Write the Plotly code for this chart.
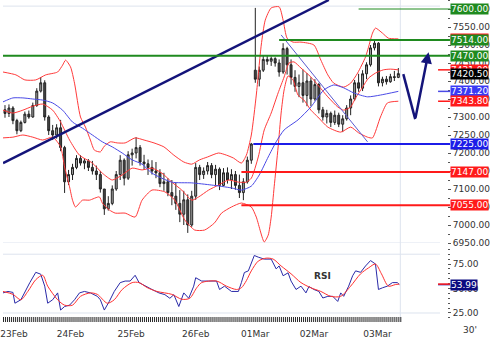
import plotly.graph_objects as go
import numpy as np

# ---------------- data (30-minute bars) ----------------
bar_open = [7320, 7310, 7325, 7290, 7262, 7285, 7308, 7300, 7332, 7372,
            7395, 7300, 7262, 7250, 7270, 7215, 7120, 7140, 7160, 7185,
            7172, 7178, 7160, 7150, 7140, 7100, 7045, 7060, 7100, 7140,
            7180, 7130, 7195, 7200, 7215, 7175, 7170, 7160, 7150, 7145,
            7115, 7120, 7090, 7080, 7060, 7030, 7070, 7000, 7080, 7160,
            7140, 7150, 7165, 7140, 7155, 7110, 7145, 7125, 7140, 7110,
            7090, 7120, 7180, 7430, 7405, 7430, 7460, 7455, 7462, 7450,
            7425, 7490, 7445, 7410, 7385, 7395, 7360, 7400, 7350, 7390,
            7320, 7300, 7310, 7285, 7305, 7280, 7295, 7325, 7350, 7395,
            7380, 7420, 7445, 7492, 7505, 7395, 7405, 7398, 7412, 7410]
bar_high = [7333, 7335, 7330, 7295, 7290, 7315, 7318, 7340, 7380, 7411,
            7402, 7305, 7278, 7280, 7292, 7220, 7153, 7170, 7194, 7194,
            7185, 7183, 7178, 7165, 7150, 7100, 7080, 7110, 7150, 7194,
            7185, 7205, 7212, 7244, 7222, 7195, 7182, 7180, 7175, 7155,
            7145, 7130, 7125, 7118, 7097, 7095, 7085, 7095, 7172, 7167,
            7160, 7175, 7172, 7167, 7160, 7158, 7160, 7155, 7150, 7140,
            7130, 7190, 7228, 7603, 7440, 7470, 7472, 7468, 7466, 7460,
            7505, 7495, 7460, 7430, 7418, 7432, 7422, 7410, 7405, 7395,
            7328, 7320, 7315, 7318, 7312, 7305, 7333, 7360, 7403, 7420,
            7430, 7452, 7500, 7514, 7508, 7412, 7414, 7420, 7428, 7436]
bar_low = [7298, 7300, 7280, 7252, 7258, 7282, 7295, 7298, 7328, 7368,
           7290, 7250, 7236, 7240, 7205, 7089, 7111, 7125, 7155, 7165,
           7155, 7150, 7140, 7125, 7090, 7028, 7040, 7055, 7095, 7125,
           7110, 7125, 7165, 7185, 7165, 7153, 7139, 7140, 7130, 7105,
           7095, 7080, 7055, 7042, 7008, 7000, 6978, 6995, 7070, 7125,
           7128, 7140, 7130, 7110, 7097, 7108, 7115, 7100, 7098, 7075,
           7069, 7115, 7170, 7395, 7385, 7425, 7445, 7442, 7440, 7412,
           7420, 7418, 7390, 7370, 7355, 7340, 7330, 7330, 7345, 7310,
           7290, 7282, 7272, 7278, 7272, 7258, 7290, 7305, 7345, 7370,
           7372, 7405, 7440, 7485, 7385, 7385, 7390, 7395, 7400, 7408]
bar_close = [7310, 7325, 7290, 7262, 7285, 7308, 7300, 7332, 7372, 7395,
             7300, 7262, 7250, 7270, 7215, 7120, 7140, 7160, 7185, 7172,
             7178, 7160, 7150, 7140, 7100, 7045, 7060, 7100, 7140, 7180,
             7130, 7195, 7200, 7215, 7175, 7170, 7160, 7150, 7145, 7115,
             7120, 7090, 7080, 7060, 7030, 7070, 7000, 7080, 7160, 7140,
             7150, 7165, 7140, 7155, 7110, 7145, 7125, 7140, 7110, 7090,
             7120, 7180, 7225, 7405, 7430, 7460, 7455, 7462, 7450, 7425,
             7490, 7445, 7410, 7385, 7395, 7360, 7400, 7350, 7390, 7320,
             7300, 7310, 7285, 7305, 7280, 7295, 7325, 7350, 7395, 7380,
             7420, 7445, 7492, 7505, 7395, 7405, 7398, 7412, 7410, 7420.5]

# Bollinger bands (time in bar units, price)
bb_up_t = [-0.5, 2.75, 5, 7.75, 10.25, 13.25, 14.5, 15.25, 16.5, 17.5, 19, 20.25, 21.5, 22.5, 24, 25,
           26.5, 28.25, 30.25, 32.75, 35, 37.5, 40, 42.5, 45, 47, 49, 51, 53.75, 55.75, 57.5, 59.5,
           60.75, 62, 63.25, 64.5, 65.5, 67, 69, 70, 71, 72.5, 74.5, 77.75, 79.5, 81.25, 82.75,
           85.25, 87, 88.75, 90.75, 91.5, 92.5, 93.25, 95, 96.5, 99]
bb_up = [7425, 7417, 7403, 7403, 7417, 7425, 7444, 7458, 7439, 7394, 7300, 7272, 7236, 7208, 7203, 7219,
         7231, 7228, 7228, 7242, 7236, 7228, 7217, 7194, 7175, 7169, 7181, 7189, 7200, 7194, 7186, 7172,
         7194, 7250, 7361, 7500, 7569, 7603, 7606, 7569, 7519, 7508, 7508, 7500, 7458, 7417, 7394,
         7383, 7394, 7422, 7467, 7494, 7533, 7547, 7533, 7519, 7517]
bb_mid_t = [-0.5, 2, 4.5, 7, 9.5, 12, 14, 16.25, 18.75, 22, 24.5, 27, 29.5, 32, 34.5, 37, 39.5, 42,
            44.5, 47, 48.75, 51.25, 53.75, 56.25, 58.75, 60.75, 62, 63.75, 65.25, 67, 68.75, 70.25,
            71.5, 72.75, 74.5, 77, 78.75, 81.25, 83.75, 85.25, 87, 88.25, 90, 91.5, 93.25, 95.25, 97, 99]
bb_mid = [7319, 7311, 7319, 7330, 7336, 7319, 7286, 7236, 7194, 7172, 7144, 7125, 7139, 7158, 7153, 7158,
          7144, 7119, 7097, 7069, 7078, 7097, 7111, 7125, 7119, 7119, 7130, 7189, 7264, 7311, 7367, 7411,
          7450, 7453, 7436, 7411, 7389, 7356, 7328, 7319, 7328, 7353, 7383, 7408, 7422, 7431, 7433, 7431]
bb_low_t = [-0.5, 2, 4.5, 7, 9.5, 12, 14, 15, 16.25, 17, 17.75, 19.5, 21.25, 23.75, 24.5, 26.25, 27.75,
            30.25, 32.75, 34.5, 37, 40.25, 42.75, 45.25, 47.75, 50.25, 52.75, 54.5, 57, 59.5, 62, 63.25,
            65.25, 66.25, 67, 67.75, 68.75, 69.5, 70.25, 71.25, 72.5, 73.75, 75.25, 77, 78.75, 81.25,
            84.5, 87, 89, 91.25, 92.5, 94.5, 96.25, 99]
bb_low = [7242, 7244, 7250, 7244, 7236, 7244, 7217, 7161, 7106, 7069, 7050, 7069, 7069, 7078, 7061, 7042,
          7033, 7033, 7022, 7069, 7097, 7092, 7069, 7014, 6986, 6986, 7006, 7033, 7050, 7061, 7050, 7022,
          6953, 6972, 7022, 7106, 7217, 7311, 7375, 7414, 7403, 7361, 7347, 7319, 7300, 7272,
          7258, 7272, 7256, 7244, 7242, 7300, 7339, 7343.8]

# longer moving average (blue)
ma_t = [-0.5, 2, 4.5, 7, 9.5, 12, 14.5, 17, 19.5, 22, 24.5, 27, 29.5, 32, 34.5, 37, 42, 47, 52, 57,
        59.5, 62, 64, 66.25, 68.25, 70.25, 73.75, 77, 80.25, 82.75, 85.25, 87.75, 91.25, 94.5, 99]
ma = [7342, 7353, 7353, 7350, 7347, 7339, 7319, 7286, 7269, 7250, 7231, 7217, 7200, 7181, 7169, 7144,
      7119, 7117, 7111, 7103, 7097, 7108, 7139, 7189, 7231, 7264, 7292, 7328, 7375, 7389, 7381, 7367,
      7356, 7361, 7371.2]

# RSI and its signal line
rsi_t = [-0.5, 0.75, 2, 2.5, 4, 5, 6.25, 7.75, 9, 10, 10.75, 12, 13.25, 14, 15, 16.25, 17.5, 18.75, 20,
         21.5, 23.25, 24, 25, 26.25, 27.5, 29, 30.25, 31.5, 32.75, 33.75, 35.25, 37, 38.75, 40.25, 41.5,
         42.5, 43.75, 45, 46.25, 47.5, 48, 49.5, 51.25, 53.25, 54, 55.25, 57, 58.75, 59.5, 60.25, 61.25,
         62.75, 63.75, 65.25, 67, 68.25, 69, 70, 71.25, 72, 73.25, 74.5, 75.75, 76.5, 77.75, 79, 80,
         81.25, 82.5, 83.75, 84.5, 85.25, 86.5, 87.5, 88.25, 89.5, 90.75, 92, 93.25, 94, 95, 96.25,
         97.5, 98.75, 99.25]
rsi = [45.5, 47, 46, 35, 38.5, 47, 56, 66.5, 64.6, 52.4, 35, 38.5, 45.5, 28, 31.6, 33, 38.5, 45.5, 47,
       45.5, 42, 38.5, 28, 36.8, 47, 56, 57.6, 57.6, 63.5, 56, 52.4, 49, 45.5, 43.7, 40, 43.7, 31.6,
       45.5, 40, 52.4, 61, 57.6, 57.6, 57.6, 49, 52.4, 47, 47, 56, 66.3, 68, 83.7, 82, 80, 80, 70, 73,
       63, 66, 57.6, 49, 52.4, 45.5, 52, 49, 47, 40.3, 42, 42, 36.8, 45.5, 42, 52.4, 63, 68, 66.5, 73,
       78.5, 75, 49, 50.7, 52.4, 56, 56, 53.99]
sig_t = [-0.5, 2, 4, 5.75, 7.75, 9.5, 10.75, 13.25, 15, 17, 19, 21.5, 23.25, 25.75, 27.5, 29.5, 32,
         33.75, 35.75, 38.25, 42, 44.5, 46.5, 48.25, 49.5, 53.25, 55.75, 58.25, 59.5, 60.75, 62, 63.75,
         65.75, 67.5, 69.5, 72, 74.5, 77, 79.5, 82, 84.5, 87, 89.5, 91.5, 93.25, 94.75, 96.5, 98.25, 99.25]
sig = [47, 44, 38.5, 47, 59, 63.5, 52.4, 38.5, 33, 33, 42, 45.5, 44, 35, 38.5, 49, 56, 56, 51, 47,
       44, 39, 40, 50.7, 56, 57.6, 52.4, 49, 50.7, 58, 68, 78, 81, 80, 73, 65, 56, 50.7, 47, 42,
       42, 52.4, 65, 71, 75, 65, 52.4, 54, 54.5]

# drawn analysis objects
trend_t = [-0.5, 81.5]
trend_p = [7172, 7625]
fan_t = [69.5, 91.25]
fan_p = [7528, 7231]
proj_t = [100.25, 103.25, 106.6]
proj_p = [7419, 7294, 7480]

levels = [7600, 7514, 7470, 7225, 7147, 7055]
level_start = [89, 69, -0.5, 62.5, 59.5, 59.5]
level_kind = ['g1', 'g', 'g', 'b', 'r', 'r']

day_tick_t = [2.25, 16.5, 31.75, 48, 63, 77.75, 93.75]
day_tick_text = ['23Feb', '24Feb', '25Feb', '26Feb', '01Mar', '02Mar', '03Mar']

# ---------------- layout constants ----------------
W, H = 500, 339
MR, MB = 53, 17
X_LO, X_HI = -0.5, 111.25
PLOT_W = W - MR
PLOT_H = H - MB
FONT = 'DejaVu Sans'
GREEN = '#1f8a1f'
BLUE = '#1c1ce8'
RED = '#ff1a1a'
NAVY = '#14147a'
GRID = '#dde3ee'
RSI_LO, RSI_HI = 15.8, 94.4
RSI_PX = 77  # panel height in px


def xp(t):
    return (t - X_LO) / (X_HI - X_LO)


LABEL_X = 450 / PLOT_W

fig = go.Figure()

fig.add_trace(go.Candlestick(
    x=list(range(len(bar_close))), open=bar_open, high=bar_high, low=bar_low, close=bar_close,
    xaxis='x', yaxis='y', whiskerwidth=0, hoverinfo='skip',
    increasing=dict(line=dict(color='#222222', width=1), fillcolor='#a0a0a0'),
    decreasing=dict(line=dict(color='#222222', width=1), fillcolor='#484848')))

for tt, vv in [(bb_up_t, bb_up), (bb_mid_t, bb_mid), (bb_low_t, bb_low)]:
    fig.add_trace(go.Scatter(x=tt, y=vv, mode='lines', xaxis='x', yaxis='y',
                             line=dict(color='#ff3a3a', width=1, shape='spline', smoothing=0.6),
                             hoverinfo='skip'))
fig.add_trace(go.Scatter(x=ma_t, y=ma, mode='lines', xaxis='x', yaxis='y',
                         line=dict(color='#4a4ae6', width=1, shape='spline', smoothing=0.6),
                         hoverinfo='skip'))
fig.add_trace(go.Scatter(x=trend_t, y=trend_p, mode='lines', xaxis='x', yaxis='y',
                         line=dict(color=NAVY, width=2.5), hoverinfo='skip'))
fig.add_trace(go.Scatter(x=fan_t, y=fan_p, mode='lines', xaxis='x', yaxis='y',
                         line=dict(color='#5a5ad0', width=1), hoverinfo='skip'))
fig.add_trace(go.Scatter(x=proj_t[:2], y=proj_p[:2], mode='lines', xaxis='x', yaxis='y',
                         line=dict(color=NAVY, width=2.5), hoverinfo='skip', cliponaxis=False))

# RSI panel
fig.add_trace(go.Scatter(x=rsi_t, y=rsi, mode='lines', xaxis='x2', yaxis='y2',
                         line=dict(color='#2a2aa8', width=1), hoverinfo='skip'))
fig.add_trace(go.Scatter(x=sig_t, y=sig, mode='lines', xaxis='x2', yaxis='y2',
                         line=dict(color='#ff3030', width=1, shape='spline', smoothing=0.8),
                         hoverinfo='skip'))

shapes = []
# dense time-axis tick marks (one per half bar) along the bottom of the RSI panel
for tp in np.arange(-0.5, 99.6, 0.5):
    shapes.append(dict(type='line', xref='x2', yref='paper', x0=float(tp) + 0.125, x1=float(tp) + 0.125,
                       y0=0, y1=5 / PLOT_H, line=dict(color='#2a2a2a', width=1)))

# frames / faint grid
for yref, yv in [('y', 7608), ('y', 6950), ('y2', 85), ('y2', 25)]:
    shapes.append(dict(type='line', xref='paper', yref=yref, x0=0, x1=440 / PLOT_W, y0=yv, y1=yv,
                       line=dict(color=GRID, width=1), layer='below'))
shapes.append(dict(type='line', xref='paper', yref='paper', x0=xp(99.5), x1=xp(99.5), y0=0, y1=1,
                   line=dict(color=GRID, width=1), layer='below'))

kind_style = {'g1': (GREEN, 1), 'g': (GREEN, 2), 'b': (BLUE, 2), 'r': (RED, 2)}
for lv, st, kd in zip(levels, level_start, level_kind):
    c, w = kind_style[kd]
    shapes.append(dict(type='line', xref='paper', yref='y', x0=xp(st), x1=LABEL_X, y0=lv, y1=lv,
                       line=dict(color=c, width=w)))

# short connector ticks near the value labels
for val, c, yr in [(bb_mid[-1], RED, 'y'), (ma[-1], '#4a4ae6', 'y'), (bb_low[-1], RED, 'y'),
                   (rsi[-1], '#2a2aa8', 'y2'), (sig[-1], RED, 'y2')]:
    shapes.append(dict(type='line', xref='paper', yref=yr, x0=438 / PLOT_W, x1=LABEL_X, y0=val, y1=val,
                       line=dict(color=c, width=1.5)))

ann = []


def label(val, color, yref='y', text=None):
    ann.append(dict(xref='paper', yref=yref, x=LABEL_X, y=val, xanchor='left', yanchor='middle',
                    text=text if text else f'{val:.2f}', showarrow=False, bgcolor=color,
                    borderpad=0, font=dict(family=FONT, size=9, color='white')))


label(levels[0], GREEN)
label(bb_up[-1], RED)
label(levels[1], GREEN)
label(levels[2], GREEN)
label(bb_mid[-1], RED)
label(bar_close[-1], '#000000')
label(ma[-1], '#3a3af5')
label(bb_low[-1], RED)
label(levels[3], BLUE)
label(levels[4], RED)
label(levels[5], RED)
label(rsi[-1], '#0a0a80', yref='y2')

# projection arrow head
ann.append(dict(xref='x', yref='y', x=proj_t[2], y=proj_p[2], axref='x', ayref='y',
                ax=proj_t[1], ay=proj_p[1], showarrow=True, arrowhead=2, arrowsize=0.9,
                arrowwidth=2.5, arrowcolor=NAVY, text=''))
ann.append(dict(xref='x2', yref='y2', x=80, y=62.8, text='<b>RSI</b>', showarrow=False,
                font=dict(family=FONT, size=9, color='#333333')))
ann.append(dict(xref='paper', yref='paper', x=470 / PLOT_W, y=-8 / PLOT_H, text="30'",
                showarrow=False, xanchor='center', yanchor='middle',
                font=dict(family=FONT, size=9, color='#333333')))

tickfont = dict(family=FONT, size=9, color='#333333')
fig.update_layout(
    width=W, height=H, margin=dict(l=0, r=MR, t=0, b=MB),
    paper_bgcolor='white', plot_bgcolor='white', showlegend=False, hovermode=False,
    shapes=shapes, annotations=ann,
    xaxis=dict(domain=[0, 1], range=[X_LO, X_HI], anchor='y', showticklabels=False, ticks='',
               showgrid=False, zeroline=False, showline=False, rangeslider=dict(visible=False)),
    xaxis2=dict(domain=[0, 1], range=[X_LO, X_HI], anchor='y2', tickmode='array',
                tickvals=day_tick_t, ticktext=day_tick_text, ticks='', tickfont=tickfont,
                ticklabeloverflow='allow', ticklabelstandoff=5,
                showgrid=False, zeroline=False, showline=False),
    yaxis=dict(domain=[1 - 243 / PLOT_H, 1], range=[6950, 7625], anchor='x', side='right',
               tickmode='linear', tick0=6950, dtick=50, tickformat='.2f', ticks='outside',
               ticklen=3, tickcolor='#555555', tickfont=tickfont, showgrid=False, zeroline=False,
               showline=False,
               minor=dict(tickmode='linear', tick0=6950, dtick=25, ticks='outside', ticklen=2,
                          tickcolor='#555555')),
    yaxis2=dict(domain=[0, RSI_PX / PLOT_H], range=[RSI_LO, RSI_HI], anchor='x2', side='right',
                tickmode='array', tickvals=[25, 50, 75], tickformat='.2f', ticks='outside',
                ticklen=3, tickcolor='#555555', tickfont=tickfont, showgrid=False, zeroline=False,
                showline=False,
                minor=dict(tickmode='linear', tick0=0, dtick=5, ticks='outside', ticklen=2,
                           tickcolor='#555555')),
)

fig.write_html('out.html', config={'displayModeBar': False})
